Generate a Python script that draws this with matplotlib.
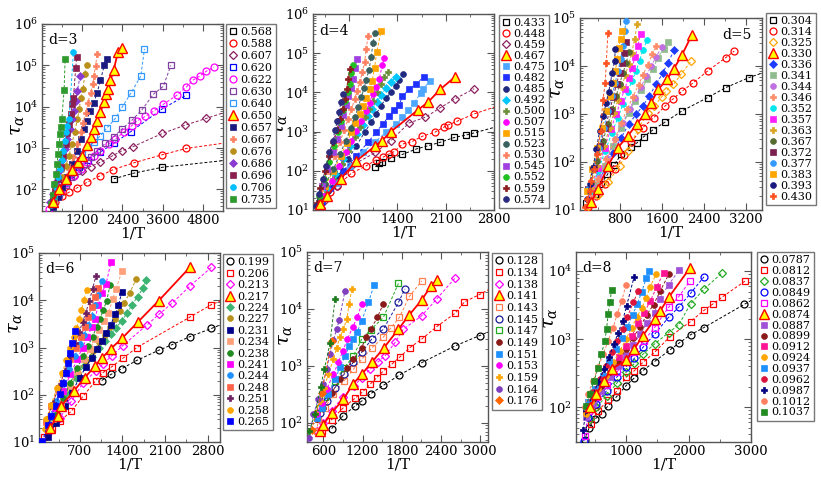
import matplotlib
matplotlib.use('Agg')
import matplotlib.pyplot as plt
from matplotlib.lines import Line2D
from matplotlib.ticker import FixedLocator, MultipleLocator, LogLocator, NullFormatter, LogFormatterMathtext

plt.rcParams['font.family'] = ['DejaVu Serif']
plt.rcParams['mathtext.fontset'] = 'dejavuserif'

# ---------------- d = 3 ----------------
D3_LABELS = ['0.568', '0.588', '0.607', '0.620', '0.622', '0.630', '0.640', '0.650',
             '0.657', '0.667', '0.676', '0.686', '0.696', '0.706', '0.735']
D3_X = [
    [2140, 2731, 3589, 6000],
    [400, 600, 800, 1055, 1351, 1745, 2120, 2731, 3589, 4309, 5800],
    [365, 562, 759, 956, 1203, 1449, 1745, 2090, 2386, 2702, 3589, 4280, 4900, 5600],
    [316, 464, 661, 858, 1104, 1380, 1745, 2140, 2652, 3589, 4309],
    [217, 365, 562, 759, 956, 1154, 1351, 1548, 1745, 1992, 2189, 2435, 2682, 2830, 3076, 3342, 3619, 4013, 4309, 4506, 4703, 4900, 5127],
    [316, 513, 710, 878, 1075, 1252, 1449, 1647, 1893, 2140, 2386, 2682, 2978, 3323, 3619, 3845],
    [365, 542, 710, 878, 1035, 1203, 1370, 1548, 1745, 1943, 2189, 2386, 2662, 2948, 3057],
    [316, 513, 710, 907, 1075, 1203, 1331, 1449, 1548, 1647, 1745, 1844, 1923, 1962, 2041, 2140, 2268, 2386],
    [316, 464, 611, 760, 907, 1035, 1154, 1252, 1331, 1430, 1548, 1647, 1745, 1864, 1943],
    [365, 513, 661, 808, 937, 1055, 1154, 1223, 1302, 1370, 1449, 1518, 1548, 1597, 1647],
    [365, 483, 611, 710, 808, 888, 976, 1055, 1114, 1154, 1232, 1272, 1331],
    [247, 316, 414, 513, 592, 680, 760, 838, 907, 957, 1006, 1055, 1134],
    [316, 395, 483, 562, 640, 710, 760, 808, 858, 907, 937, 1006, 1035],
    [266, 345, 414, 483, 542, 592, 640, 680, 730, 760, 808, 937],
    [266, 316, 365, 414, 444, 483, 513, 542, 562, 592, 660, 690],
]
D3_Y = [
    [180, 246, 343, 560],
    [50, 68, 85, 110, 150, 215, 300, 437, 690, 980, 1450],
    [54, 95, 150, 216, 285, 357, 455, 640, 860, 1070, 2250, 3600, 5200, 8000],
    [45, 82, 142, 237, 357, 520, 800, 1300, 2500, 8900, 19000],
    [34, 54, 95, 142, 216, 313, 455, 650, 860, 1250, 1650, 2400, 3500, 4500, 5800, 7900, 11400, 18700, 30000, 44000, 55000, 72000, 91000],
    [41, 72, 125, 198, 285, 410, 600, 860, 1300, 1870, 2900, 4700, 8300, 20000, 31000, 100000],
    [50, 86, 150, 260, 500, 720, 1050, 1370, 2000, 3100, 5200, 9600, 22000, 55000, 250000],
    [50, 100, 180, 300, 470, 650, 1200, 1870, 2900, 4400, 7400, 13000, 20000, 27500, 43000, 79000, 210000, 270000],
    [38, 65, 114, 198, 410, 870, 1650, 2900, 4500, 7900, 12500, 22000, 44000, 104000, 145000],
    [50, 86, 164, 313, 600, 1250, 2400, 4100, 7200, 12500, 22000, 35000, 55000, 98000, 190000],
    [54, 104, 198, 375, 650, 1250, 2400, 5000, 8700, 16600, 27500, 62000, 100000],
    [50, 79, 150, 285, 500, 950, 1650, 2900, 5000, 7900, 14000, 24000, 55000],
    [54, 95, 180, 345, 650, 1250, 2250, 3800, 6600, 11400, 16600, 86000, 156000],
    [41, 66, 114, 198, 313, 500, 870, 1500, 2400, 3470, 5000, 210000],
    [45, 72, 137, 240, 410, 720, 1250, 2200, 3150, 5000, 26000, 145000],
]

# ---------------- d = 4 ----------------
D4_LABELS = ['0.433', '0.448', '0.459', '0.467', '0.475', '0.482', '0.485', '0.492', '0.500',
             '0.507', '0.515', '0.523', '0.530', '0.545', '0.552', '0.559', '0.574']
D4_X = [
    [1081, 1139, 1177, 1306, 1472, 1673, 1845, 2021, 2226, 2388, 2512, 3000],
    [290, 351, 423, 518, 733, 948, 1091, 1186, 1272, 1353, 1472, 1606, 1759, 1940, 2068, 2140, 2260, 2512, 3000],
    [328, 518, 733, 1081, 1306, 1568, 1806, 2021, 2236, 2512],
    [280, 375, 580, 805, 1081, 1177, 1306, 1702, 1845, 2021, 2236],
    [351, 518, 709, 900, 1067, 1234, 1377, 1472, 1558, 1640, 1735, 1768, 1878],
    [304, 423, 614, 805, 972, 1091, 1186, 1282, 1353, 1425, 1472, 1568, 1673, 1783],
    [280, 399, 542, 685, 805, 924, 1020, 1091, 1162, 1234, 1306, 1377, 1425, 1482],
    [280, 375, 494, 614, 718, 814, 900, 972, 1034, 1100, 1162, 1234, 1306, 1377],
    [270, 351, 471, 590, 685, 781, 852, 924, 986, 1043, 1100, 1162, 1210, 1258],
    [328, 447, 557, 652, 733, 805, 876, 938, 996, 1043, 1091, 1139, 1177, 1210],
    [270, 351, 471, 576, 661, 733, 790, 852, 900, 948, 996, 1034, 1067, 1100, 1162],
    [270, 351, 471, 566, 652, 719, 781, 829, 876, 914, 948, 986, 1020, 1043, 1067],
    [304, 399, 494, 566, 623, 685, 733, 781, 814, 852, 890, 924, 948, 972],
    [304, 385, 461, 518, 576, 614, 652, 685, 719, 748, 781, 814],
    [256, 337, 414, 480, 533, 576, 614, 643, 676, 709, 733, 757],
    [232, 280, 351, 414, 471, 518, 566, 604, 638, 661, 685, 709],
    [223, 256, 318, 366, 414, 461, 495, 528, 557, 576, 604],
]
D4_Y = [
    [126, 155, 170, 209, 262, 360, 435, 535, 710, 810, 925, 1600],
    [15.4, 21, 28, 40, 87, 134, 190, 220, 267, 310, 480, 550, 760, 960, 1290, 1490, 1820, 2830, 5500],
    [17, 41, 134, 295, 590, 1660, 2330, 4050, 6900, 12400],
    [14, 23, 63, 180, 435, 590, 1000, 3640, 5670, 12000, 25000],
    [21, 50, 134, 295, 535, 960, 1580, 2300, 3500, 5400, 9500, 12400, 19600],
    [17, 37, 100, 240, 535, 960, 1580, 2500, 3500, 4800, 8000, 12000, 16600, 25000],
    [15, 30, 74, 200, 435, 960, 1740, 2800, 4600, 7100, 10000, 14500, 21000, 29000],
    [17, 34, 82, 200, 435, 870, 1480, 2500, 3800, 5600, 8400, 13000, 18000, 25000],
    [15, 25, 61, 148, 325, 710, 1290, 2300, 3800, 6200, 10200, 16600, 25000, 33000],
    [23, 55, 134, 295, 590, 1060, 1900, 3300, 5500, 9300, 13700, 22000, 49000, 76000],
    [19, 41, 100, 240, 510, 960, 1660, 2800, 4400, 7100, 12000, 20000, 42000, 107000, 370000],
    [21, 45, 110, 270, 590, 1200, 2300, 4200, 7600, 13000, 21000, 37000, 81000, 180000, 320000],
    [37, 100, 240, 535, 1070, 2100, 3800, 6900, 11000, 18000, 33000, 60000, 130000, 280000],
    [41, 110, 295, 650, 1400, 2600, 4700, 8100, 13000, 22000, 41000, 70000],
    [23, 61, 163, 435, 960, 1900, 3500, 6200, 10000, 16600, 32000, 49000],
    [15, 37, 100, 240, 535, 1070, 2100, 3800, 6900, 12400, 22000, 39000],
    [12.6, 25, 61, 134, 295, 590, 1070, 1900, 3100, 5600, 9300],
]

# ---------------- d = 5 ----------------
D5_LABELS = ['0.304', '0.314', '0.325', '0.330', '0.336', '0.341', '0.344', '0.346', '0.352',
             '0.357', '0.363', '0.367', '0.372', '0.377', '0.383', '0.393', '0.430']
D5_X = [
    [170, 328, 450, 570, 693, 832, 1008, 1134, 1260, 1430, 1663, 1978, 2470, 2816, 3257, 3700],
    [202, 359, 517, 706, 882, 1021, 1241, 1449, 1663, 1808, 1978, 2199, 2470, 2816, 2974],
    [202, 391, 580, 800, 958, 1147, 1336, 1462, 1600, 1682, 1821, 1966, 2155],
    [265, 391, 580, 769, 958, 1134, 1273, 1399, 1537, 1701, 1827, 1978, 2167],
    [233, 359, 517, 674, 832, 970, 1115, 1241, 1367, 1493, 1619, 1714, 1840],
    [233, 359, 517, 674, 832, 970, 1096, 1210, 1323, 1430, 1525, 1638, 1726],
    [265, 403, 567, 718, 863, 989, 1096, 1210, 1304, 1399, 1493, 1600],
    [252, 391, 548, 706, 832, 945, 1052, 1159, 1241, 1336, 1418, 1493],
    [252, 391, 529, 655, 769, 863, 958, 1033, 1115, 1178, 1241, 1323],
    [265, 391, 517, 630, 737, 819, 895, 970, 1033, 1096, 1147, 1197],
    [252, 378, 504, 611, 693, 769, 844, 907, 970, 1033, 1084, 1134],
    [252, 378, 485, 580, 662, 737, 800, 863, 926, 977],
    [202, 315, 428, 529, 611, 680, 743, 800, 844, 882, 926],
    [202, 296, 403, 498, 580, 655, 718, 769, 819, 863, 895, 926],
    [189, 277, 378, 466, 548, 617, 674, 718, 756, 781, 819, 844],
    [189, 233, 296, 359, 422, 485, 548, 592, 630, 655, 706, 718],
    [151, 189, 233, 265, 315, 378, 441, 485, 529, 548, 580],
]
D5_Y = [
    [14, 22, 35, 55, 86, 144, 205, 252, 338, 464, 680, 1150, 2200, 3560, 5750, 8500],
    [11.7, 19.6, 34, 70, 140, 260, 520, 840, 1470, 2040, 2950, 4500, 7900, 15000, 20500],
    [12, 21, 38, 82, 170, 480, 1070, 1470, 2300, 3030, 4150, 6700, 12700],
    [15, 27, 82, 200, 350, 630, 990, 1700, 3300, 5300, 8700, 16600, 43500],
    [15.5, 31, 70, 155, 320, 610, 990, 1470, 2400, 4200, 7100, 11700, 21500],
    [16.7, 34, 82, 215, 520, 1070, 1860, 3100, 5300, 8500, 15000, 23000, 31000],
    [21, 51, 123, 296, 660, 1260, 2200, 3700, 6200, 10000, 15500, 25000],
    [18, 44, 114, 296, 660, 1260, 2300, 4000, 6400, 10700, 17500, 26000],
    [25, 65, 170, 405, 830, 1590, 2900, 4900, 7900, 12700, 21500, 35000],
    [29, 76, 200, 480, 980, 1860, 3300, 5500, 9200, 15500, 26000, 46000],
    [29, 82, 215, 520, 1070, 2000, 3700, 6400, 10800, 19000, 36000, 74000],
    [37, 105, 275, 610, 1260, 2400, 4200, 7100, 11700, 19500],
    [27, 76, 215, 520, 1150, 2300, 4200, 7200, 11700, 19000, 31000],
    [27, 70, 200, 520, 1150, 2400, 4500, 7900, 13800, 26000, 54000, 87000],
    [25, 70, 200, 520, 1150, 2400, 4500, 7900, 13800, 24000, 37000, 54000],
    [16.7, 34, 76, 183, 445, 910, 1700, 2900, 4500, 7200, 12600, 23000],
    [11.7, 17, 25, 40, 70, 145, 445, 2000, 4500, 11700, 49000],
]

# ---------------- d = 6 ----------------
D6_LABELS = ['0.199', '0.206', '0.213', '0.217', '0.224', '0.227', '0.231', '0.234',
             '0.238', '0.241', '0.244', '0.248', '0.251', '0.258', '0.265']
D6_X = [
    [1058, 1212, 1389, 1637, 1995, 2215, 2507, 2860, 3200],
    [110, 248, 369, 562, 755, 964, 1074, 1223, 1405, 1636, 2507, 2860, 3200],
    [204, 369, 562, 755, 964, 1074, 1223, 1405, 1802, 1995, 2215, 2507, 2860],
    [204, 342, 397, 601, 782, 948, 1058, 1212, 1400, 1647, 1995, 2507],
    [204, 325, 479, 634, 766, 893, 1019, 1113, 1207, 1295, 1389, 1471, 1554, 1647, 1736, 1791],
    [259, 397, 534, 672, 799, 920, 1019, 1113, 1196, 1278, 1361, 1427, 1515, 1625],
    [176, 303, 452, 579, 700, 799, 893, 975, 1058, 1130, 1207, 1278, 1333, 1389],
    [259, 397, 534, 656, 766, 865, 948, 1019, 1096, 1168, 1240, 1295, 1389],
    [176, 287, 424, 546, 656, 755, 837, 909, 975, 1030, 1085, 1141, 1196],
    [176, 287, 424, 546, 656, 744, 821, 893, 948, 1003, 1058, 1130, 1212],
    [193, 303, 424, 524, 617, 700, 766, 837, 893, 948, 1003, 1058],
    [149, 231, 342, 452, 546, 634, 711, 782, 837, 893, 948, 1003],
    [160, 259, 358, 452, 546, 623, 689, 744, 799, 854, 909, 964],
    [121, 149, 231, 325, 413, 479, 546, 601, 645, 689, 727, 766, 810],
    [83, 176, 231, 303, 369, 424, 468, 507, 534, 579, 617],
]
D6_Y = [
    [200, 270, 357, 535, 875, 1150, 1700, 2530, 3800],
    [12.6, 19, 27.5, 45, 94, 200, 290, 390, 590, 1000, 4400, 8100, 12000],
    [17, 32, 73, 180, 320, 445, 660, 1100, 3000, 5000, 8700, 20000, 50000],
    [20, 35, 58, 120, 230, 405, 590, 950, 1600, 3400, 9800, 50000],
    [23, 49, 110, 230, 405, 630, 1000, 1380, 1900, 2600, 3700, 5300, 7800, 12000, 18000, 27000],
    [32, 67, 152, 295, 525, 850, 1280, 1860, 2750, 4000, 6000, 8700, 14000, 28000],
    [13, 25, 58, 120, 230, 390, 610, 910, 1380, 2000, 3000, 5000, 7800, 14800],
    [30, 67, 152, 320, 560, 910, 1500, 2350, 3700, 5500, 10700, 17000, 41000],
    [18, 38, 86, 180, 365, 660, 1100, 1700, 2700, 4000, 6200, 9800, 21000],
    [23, 53, 120, 270, 560, 1000, 1630, 2700, 4000, 7800, 14000, 22000, 65000],
    [32, 73, 166, 345, 660, 1170, 1860, 3000, 4700, 7800, 13200, 26000],
    [27, 57, 130, 295, 560, 1000, 1700, 2750, 4400, 7100, 11500, 18000],
    [30, 67, 152, 320, 660, 1230, 2100, 3400, 5500, 9500, 17400, 33000],
    [19, 30, 62, 141, 295, 535, 1000, 1630, 2600, 4000, 6200, 10200, 16200],
    [10.3, 23, 35, 58, 105, 180, 295, 480, 780, 1230, 2200],
]

# ---------------- d = 7 ----------------
D7_LABELS = ['0.128', '0.134', '0.138', '0.141', '0.143', '0.145', '0.147', '0.149',
             '0.151', '0.153', '0.159', '0.164', '0.176', '_extra']
D7_X = [
    [727, 896, 1085, 1187, 1325, 1519, 1764, 2106, 2617, 2990, 3300],
    [575, 727, 906, 1085, 1202, 1315, 1417, 1519, 1647, 1774, 1927, 2106, 2336, 2617, 2760, 2990, 3300],
    [498, 600, 727, 896, 1070, 1187, 1315, 1430, 1544, 1700, 1825, 2106, 2336, 2617],
    [549, 600, 727, 906, 1060, 1187, 1340, 1530, 1749, 1917, 2106, 2245, 2336],
    [498, 523, 625, 753, 917, 1060, 1187, 1340, 1519, 1632, 1764, 1917, 2106],
    [549, 651, 779, 917, 1060, 1187, 1340, 1519, 1749, 1850],
    [549, 625, 779, 917, 1060, 1187, 1325, 1519, 1749],
    [498, 600, 727, 855, 957, 1060, 1187, 1253, 1325, 1427, 1519],
    [498, 575, 677, 779, 855, 932, 998, 1060, 1121, 1187, 1289, 1376],
    [498, 575, 651, 753, 830, 896, 968, 1050, 1121, 1187],
    [472, 549, 610, 677, 753, 804, 855, 906, 957, 998, 1034],
    [385, 447, 523, 590, 651, 702, 753, 804, 845, 932],
    [420, 575, 727],
    [385, 472, 559, 615, 702, 779],
]
D7_Y = [
    [79, 131, 197, 241, 325, 455, 690, 1140, 2240, 3400, 4700],
    [71, 114, 184, 270, 350, 475, 620, 815, 1070, 1440, 2100, 2950, 4900, 8400, 13300, 17900, 28000],
    [71, 100, 160, 285, 445, 620, 870, 1150, 1500, 2600, 4400, 7600, 15000, 35000],
    [71, 93, 150, 258, 490, 710, 1150, 2100, 4400, 7900, 14400, 25000, 32000],
    [71, 115, 184, 316, 545, 870, 1300, 2050, 3200, 4600, 7100, 16600, 31000],
    [150, 240, 415, 710, 1150, 1720, 2950, 4400, 13000, 22500],
    [184, 285, 545, 910, 1500, 2950, 4300, 7100, 28000],
    [115, 184, 338, 580, 910, 1300, 2100, 3200, 4400, 7100, 12400],
    [122, 184, 316, 580, 940, 1500, 2200, 2950, 4000, 6200, 13000, 26000],
    [140, 225, 390, 710, 1150, 1800, 2950, 4800, 7100, 12400],
    [150, 240, 415, 710, 1300, 2100, 3200, 4400, 6600, 12400, 22500],
    [54, 140, 258, 475, 870, 1620, 2800, 4400, 6500, 21000],
    [75, 340, 2700],
    [71, 144, 425, 870, 2500, 15000],
]

# ---------------- d = 8 ----------------
D8_LABELS = ['0.0787', '0.0812', '0.0837', '0.0849', '0.0862', '0.0874', '0.0887', '0.0899',
             '0.0912', '0.0924', '0.0937', '0.0962', '0.0987', '0.1012', '0.1037']
D8_X = [
    [339, 409, 500, 608, 715, 839, 1000, 1134, 1269, 1457, 1699, 1844, 2032, 2247, 2892, 3200],
    [446, 554, 715, 849, 1000, 1134, 1269, 1457, 1699, 2032, 2247, 2398, 2543, 2903],
    [419, 527, 688, 849, 1000, 1134, 1269, 1457, 1683, 1844, 2032, 2247, 2543],
    [323, 392, 527, 688, 849, 1000, 1134, 1269, 1457, 1683, 1844, 2032, 2247],
    [339, 409, 538, 688, 849, 1000, 1134, 1280, 1457, 1683, 1844, 2021],
    [419, 527, 645, 769, 1000, 1129, 1269, 1457, 1548, 1683, 2021],
    [366, 473, 607, 742, 876, 1000, 1118, 1226, 1333, 1457, 1537, 1683, 1844],
    [366, 473, 607, 742, 876, 1000, 1107, 1226, 1333, 1441, 1548, 1683],
    [409, 516, 645, 769, 892, 1000, 1091, 1199, 1290, 1387, 1494, 1602],
    [366, 446, 554, 677, 796, 903, 1000, 1091, 1172, 1253, 1323, 1387, 1484],
    [392, 500, 624, 731, 839, 930, 1021, 1107, 1183, 1253, 1323, 1360],
    [376, 473, 581, 677, 769, 860, 946, 1021, 1118, 1199],
    [312, 366, 462, 554, 645, 731, 806, 876, 946, 1011, 1129],
    [339, 392, 473, 554, 634, 715, 796, 860, 930, 1000],
    [366, 419, 484, 554, 607, 661, 688, 715, 742, 769],
]
D8_Y = [
    [33, 50, 67, 80, 106, 140, 208, 270, 345, 470, 690, 870, 1160, 1480, 3240, 4700],
    [57, 89, 128, 171, 275, 345, 455, 640, 1080, 1810, 2640, 3320, 4170, 7100],
    [68, 100, 148, 224, 325, 440, 600, 850, 1250, 1620, 3300, 5400, 9500],
    [32, 71, 112, 175, 275, 395, 525, 755, 1180, 2100, 2950, 4700, 8200],
    [38, 89, 140, 214, 325, 470, 640, 930, 1480, 2950, 4200, 7100],
    [100, 157, 245, 365, 490, 710, 1120, 1950, 2600, 4100, 11000],
    [71, 112, 175, 275, 405, 590, 830, 1180, 1700, 2450, 3900, 6300, 10200],
    [85, 132, 208, 325, 480, 710, 1050, 1500, 2300, 3200, 5100, 8900],
    [95, 148, 232, 365, 550, 800, 1120, 1700, 2450, 3600, 5900, 9500],
    [80, 118, 185, 290, 455, 680, 1000, 1480, 2100, 2900, 4000, 5900, 9100],
    [118, 185, 290, 455, 710, 1050, 1500, 2300, 3300, 5000, 7800, 10000],
    [105, 166, 258, 405, 640, 950, 1400, 2100, 3500, 5100],
    [47, 90, 148, 232, 365, 550, 850, 1250, 1860, 3100, 8200],
    [100, 157, 245, 385, 600, 950, 1480, 2350, 3600, 6300],
    [105, 157, 240, 375, 600, 950, 1400, 2350, 3500, 5200],
]

# ---------------- styles: (marker, kind, color) kind: o=open, f=filled, t=triangle ----------------
D3_STYLE = [('s', 'o', '#000000'), ('o', 'o', '#ff0000'), ('D', 'o', '#8b2060'), ('s', 'o', '#0000ff'),
            ('o', 'o', '#ff00ff'), ('s', 'o', '#8040a0'), ('s', 'o', '#3399ff'), ('^', 't', '#ff0000'),
            ('s', 'f', '#1a1a80'), ('P', 'f', '#ff8060'), ('o', 'f', '#b8901a'), ('D', 'f', '#8a3ad0'),
            ('s', 'f', '#8b2050'), ('o', 'f', '#00bfff'), ('s', 'f', '#2e9a2e')]
D4_STYLE = [('s', 'o', '#000000'), ('o', 'o', '#ff0000'), ('D', 'o', '#8b2060'), ('^', 't', '#ff0000'),
            ('s', 'f', '#4da6ff'), ('s', 'f', '#2030ff'), ('o', 'f', '#202a80'), ('D', 'f', '#00c8ff'),
            ('P', 'f', '#6b8e3a'), ('o', 'f', '#ff00ff'), ('s', 'f', '#ffa500'), ('o', 'f', '#3a6060'),
            ('P', 'f', '#ff8060'), ('s', 'f', '#a040e0'), ('o', 'f', '#20c020'), ('P', 'f', '#8b1a1a'),
            ('o', 'f', '#2b2b80')]
D5_STYLE = [('s', 'o', '#000000'), ('o', 'o', '#ff0000'), ('D', 'o', '#ffa500'), ('^', 't', '#ff0000'),
            ('D', 'f', '#1e3cff'), ('s', 'f', '#8fbc8f'), ('o', 'f', '#c070e0'), ('P', 'f', '#ff8c69'),
            ('o', 'f', '#00e5ee'), ('s', 'f', '#ff20ff'), ('P', 'f', '#daa520'), ('o', 'f', '#556b2f'),
            ('s', 'f', '#7b1f4f'), ('o', 'f', '#3399ff'), ('s', 'f', '#ffa500'), ('o', 'f', '#1a1a80'),
            ('P', 'f', '#ff5020')]
D6_STYLE = [('o', 'o', '#000000'), ('s', 'o', '#ff0000'), ('D', 'o', '#ff00ff'), ('^', 't', '#ff0000'),
            ('D', 'f', '#3cb371'), ('o', 'f', '#b8901a'), ('s', 'f', '#00008b'), ('s', 'f', '#ffa07a'),
            ('o', 'f', '#228b22'), ('s', 'f', '#ff00ff'), ('o', 'f', '#1e90ff'), ('s', 'f', '#ff6347'),
            ('P', 'f', '#6b1f5f'), ('o', 'f', '#ffa500'), ('s', 'f', '#0000ff')]
D7_STYLE = [('o', 'o', '#000000'), ('s', 'o', '#ff0000'), ('D', 'o', '#ff00ff'), ('^', 't', '#ff0000'),
            ('s', 'o', '#ff7f50'), ('o', 'o', '#1a1a99'), ('s', 'o', '#22aa22'), ('o', 'f', '#8b1a1a'),
            ('s', 'f', '#1e90ff'), ('o', 'f', '#ff00ff'), ('P', 'f', '#ffa500'), ('o', 'f', '#7f3fbf'),
            ('D', 'f', '#ff6600'), ('P', 'f', '#1a7a1a')]
D8_STYLE = [('o', 'o', '#000000'), ('s', 'o', '#ff0000'), ('D', 'o', '#22aa22'), ('o', 'o', '#0000ff'),
            ('s', 'o', '#ff00ff'), ('^', 't', '#ff0000'), ('s', 'f', '#a050d8'), ('o', 'f', '#8b1a1a'),
            ('s', 'f', '#ff1493'), ('o', 'f', '#ffa500'), ('s', 'f', '#1e90ff'), ('o', 'f', '#dc143c'),
            ('P', 'f', '#000080'), ('o', 'f', '#ff7f60'), ('s', 'f', '#228b22')]

PANELS = [
    dict(name='d=3', X=D3_X, Y=D3_Y, L=D3_LABELS, S=D3_STYLE, rect=[42, 24, 223, 211],
         xlim=(0, 5400), ylim=(30, 1e6), xt=[1200, 2400, 3600, 4800], xm=600,
         leg=(226, 24), lsp=0.175, tpos=(0.035, 0.95), ylab=(-0.088, 0.46)),
    dict(name='d=4', X=D4_X, Y=D4_Y, L=D4_LABELS, S=D4_STYLE, rect=[313, 14, 494, 210],
         xlim=(175, 2800), ylim=(10, 1e6), xt=[700, 1400, 2100, 2800], xm=350,
         leg=(499, 15), lsp=0.091, tpos=(0.035, 0.95), ylab=(-0.135, 0.44)),
    dict(name='d=5', X=D5_X, Y=D5_Y, L=D5_LABELS, S=D5_STYLE, rect=[580, 18, 762, 210],
         xlim=(50, 3500), ylim=(10, 1e5), xt=[800, 1600, 2400, 3200], xm=400,
         leg=(766, 13), lsp=0.086, tpos=(0.78, 0.95), ylab=(-0.077, 0.635)),
    dict(name='d=6', X=D6_X, Y=D6_Y, L=D6_LABELS, S=D6_STYLE, rect=[39, 253, 220, 442],
         xlim=(30, 3000), ylim=(10, 1e5), xt=[700, 1400, 2100, 2800], xm=350,
         leg=(223, 254), lsp=0.126, tpos=(0.035, 0.95), ylab=(-0.083, 0.63)),
    dict(name='d=7', X=D7_X, Y=D7_Y, L=D7_LABELS, S=D7_STYLE, rect=[307, 252, 488, 442],
         xlim=(350, 3120), ylim=(46, 1e5), xt=[600, 1200, 1800, 2400, 3000], xm=300,
         leg=(492, 253), lsp=0.15, tpos=(0.035, 0.95), ylab=(-0.072, 0.56)),
    dict(name='d=8', X=D8_X, Y=D8_Y, L=D8_LABELS, S=D8_STYLE, rect=[576, 252, 751, 442],
         xlim=(200, 3000), ylim=(31, 19000), xt=[1000, 2000, 3000], xm=500,
         leg=(757, 252), lsp=0.078, tpos=(0.035, 0.95), ylab=(-0.097, 0.65)),
]

W, H = 821, 478
fig = plt.figure(figsize=(W / 100, H / 100), dpi=100)
FRAME = '#555555'


def marker_kw(m, kind, c):
    if kind == 't':
        return dict(marker='^', ms=7.5, mfc='#ffff00', mec='#ff0000', mew=1.0)
    if kind == 'o':
        return dict(marker=m, ms=5.0 if m != 'D' else 4.2, mfc='none', mec=c, mew=0.9)
    return dict(marker=m, ms=4.2 if m != 'P' else 5.0, mfc=c, mec=c, mew=0.5)


for p in PANELS:
    l, t, r, b = p['rect']
    ax = fig.add_axes([l / W, 1 - b / H, (r - l) / W, (b - t) / H])
    handles, labels = [], []
    for x, y, lab, (m, kind, c) in zip(p['X'], p['Y'], p['L'], p['S']):
        mk = marker_kw(m, kind, c)
        if kind == 't':
            ax.plot(x, y, '-', color='#ff0000', lw=1.3, zorder=4, **mk)
        else:
            ax.plot(x, y, color=c, lw=0.7, ls=(0, (3, 2)), zorder=3, **mk)
        if not lab.startswith('_'):
            handles.append(Line2D([], [], ls='none', **mk))
            labels.append(lab)
    ax.set_yscale('log')
    ax.set_xlim(*p['xlim'])
    ax.set_ylim(*p['ylim'])
    ax.xaxis.set_major_locator(FixedLocator(p['xt']))
    ax.xaxis.set_minor_locator(MultipleLocator(p['xm']))
    ax.yaxis.set_major_locator(LogLocator(base=10, numticks=10))
    ax.yaxis.set_major_formatter(LogFormatterMathtext())
    ax.yaxis.set_minor_locator(LogLocator(base=10, subs=range(2, 10), numticks=20))
    ax.yaxis.set_minor_formatter(NullFormatter())
    ax.tick_params(which='both', direction='in', top=True, right=True, colors=FRAME,
                   labelcolor='black', labelsize=9.5)
    ax.tick_params(which='major', length=5, width=0.8)
    ax.tick_params(which='minor', length=2.5, width=0.6)
    ax.tick_params(axis='x', which='major', pad=2.5)
    ax.tick_params(axis='y', which='major', pad=2.5)
    for s in ax.spines.values():
        s.set_color(FRAME)
        s.set_linewidth(1.0)
    ax.set_xlabel('1/T', fontsize=11, labelpad=-1)
    ax.set_ylabel(r'$\tau_\alpha$', fontsize=14)
    ax.yaxis.set_label_coords(p['ylab'][0], p['ylab'][1])
    ax.text(p['tpos'][0], p['tpos'][1], p['name'], transform=ax.transAxes, fontsize=10,
            ha='left', va='top')
    lx, ly = p['leg']
    fig.legend(handles, labels, loc='upper left', bbox_to_anchor=(lx / W, 1 - ly / H),
               bbox_transform=fig.transFigure, fontsize=8, frameon=True, fancybox=False,
               edgecolor='#777777', framealpha=1, handlelength=0.7, handletextpad=0.3,
               borderpad=0.3, labelspacing=p['lsp'], borderaxespad=0)

fig.savefig('out.png', dpi=100)
